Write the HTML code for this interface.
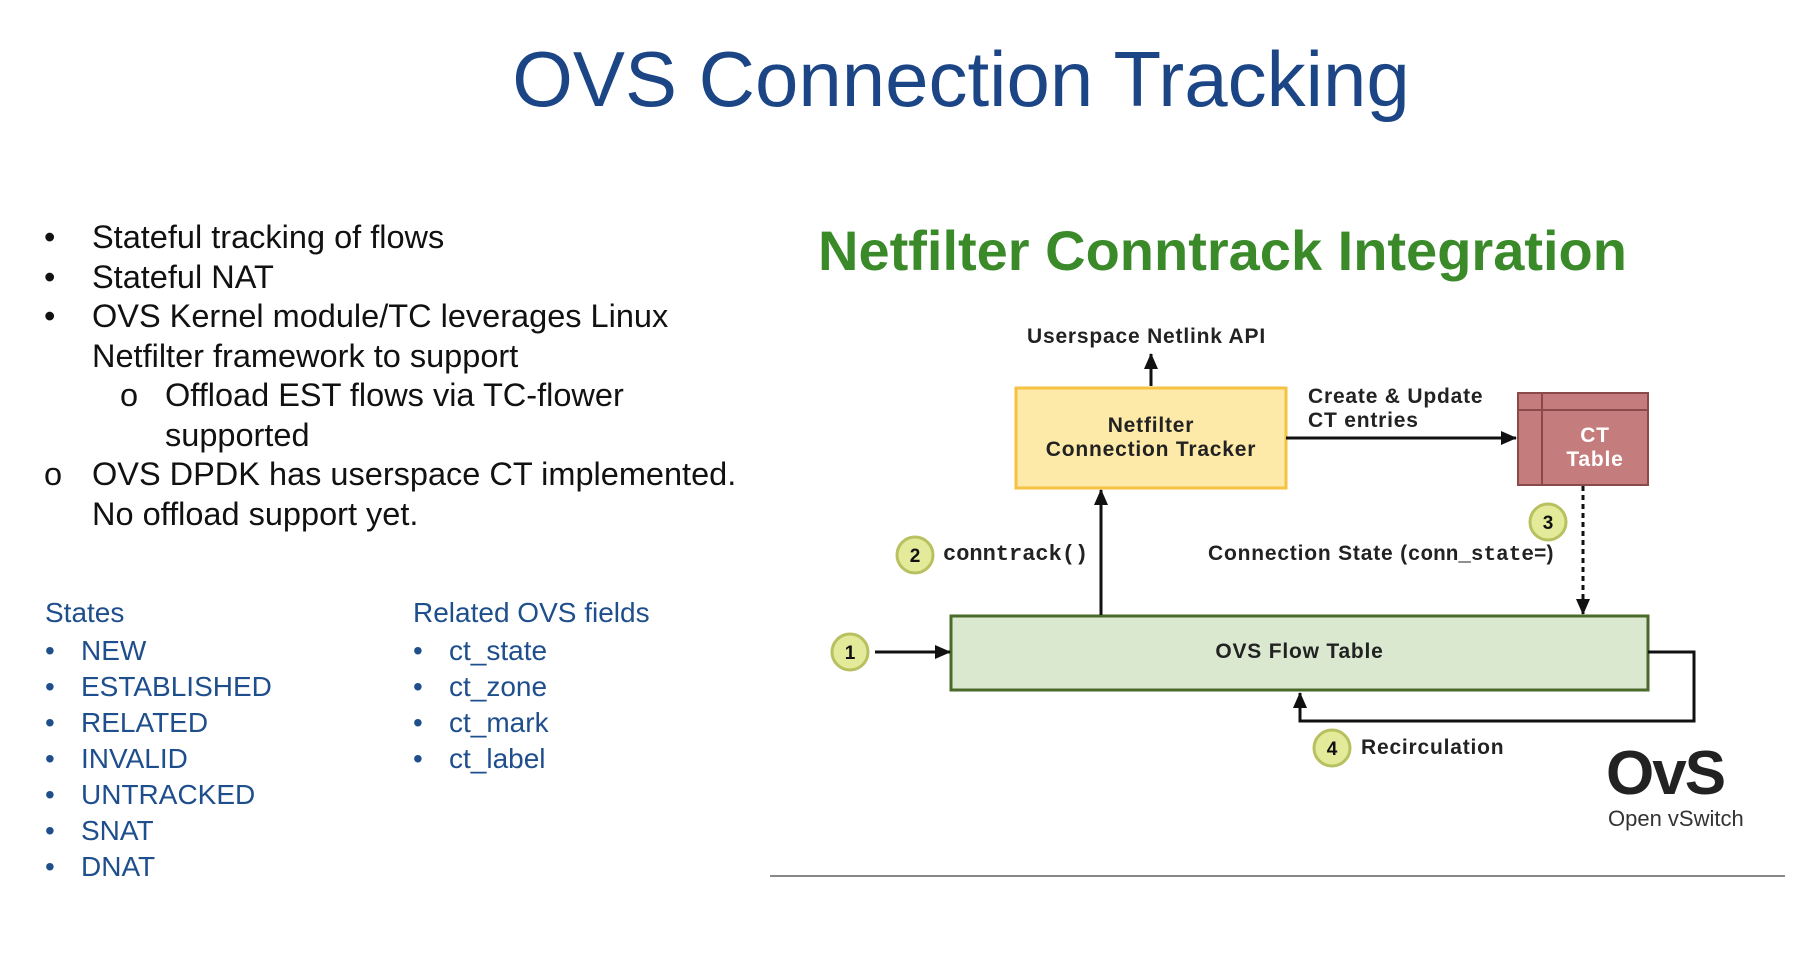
<!DOCTYPE html>
<html><head><meta charset="utf-8"><style>
body{margin:0;width:1818px;height:972px;background:#fff;position:relative;overflow:hidden;font-family:"Liberation Sans",sans-serif}
.a{position:absolute;white-space:nowrap}
.t{font-size:32.5px;color:#111;line-height:36px}
.b{font-size:28px;color:#1f4e8c;line-height:34px}
.d{font-weight:bold;font-size:21px;letter-spacing:0.8px;color:#222}
</style></head><body>
<div class="a" style="left:0;width:1922px;text-align:center;top:34px;font-size:78px;color:#1b4585">OVS Connection Tracking</div>

<div class="a t" style="left:44px;top:219px">•</div><div class="a t" style="left:92px;top:219px">Stateful tracking of flows</div>
<div class="a t" style="left:44px;top:259px">•</div><div class="a t" style="left:92px;top:259px">Stateful NAT</div>
<div class="a t" style="left:44px;top:298px">•</div><div class="a t" style="left:92px;top:298px">OVS Kernel module/TC leverages Linux</div>
<div class="a t" style="left:92px;top:338px">Netfilter framework to support</div>
<div class="a t" style="left:120px;top:377px">o</div><div class="a t" style="left:165px;top:377px">Offload EST flows via TC-flower</div>
<div class="a t" style="left:165px;top:417px">supported</div>
<div class="a t" style="left:44px;top:456px">o</div><div class="a t" style="left:92px;top:456px">OVS DPDK has userspace CT implemented.</div>
<div class="a t" style="left:92px;top:496px">No offload support yet.</div>

<div class="a b" style="left:45px;top:596px">States</div>
<div class="a b" style="left:45px;top:633px;line-height:36px">•<br>•<br>•<br>•<br>•<br>•<br>•</div>
<div class="a b" style="left:81px;top:633px;line-height:36px">NEW<br>ESTABLISHED<br>RELATED<br>INVALID<br>UNTRACKED<br>SNAT<br>DNAT</div>
<div class="a b" style="left:413px;top:596px">Related OVS fields</div>
<div class="a b" style="left:413px;top:633px;line-height:36px">•<br>•<br>•<br>•</div>
<div class="a b" style="left:449px;top:633px;line-height:36px">ct_state<br>ct_zone<br>ct_mark<br>ct_label</div>

<div class="a" style="left:818px;top:218px;font-size:56px;font-weight:bold;color:#3a8a2a">Netfilter Conntrack Integration</div>

<svg class="a" style="left:0;top:0" width="1818" height="972">
<defs><marker id="ar" markerWidth="16" markerHeight="14" refX="15" refY="7" orient="auto" markerUnits="userSpaceOnUse"><path d="M0,0L16,7L0,14z" fill="#111"/></marker></defs>
<rect x="1016" y="388" width="270" height="100" fill="#fdeaa8" stroke="#f5c242" stroke-width="3"/>
<rect x="1518" y="393" width="130" height="92" fill="#c47c7c" stroke="#8a4a4a" stroke-width="2"/>
<line x1="1518" y1="410" x2="1648" y2="410" stroke="#8a4a4a" stroke-width="2"/>
<line x1="1542" y1="393" x2="1542" y2="485" stroke="#8a4a4a" stroke-width="2"/>
<rect x="951" y="616" width="697" height="74" fill="#dbe8d0" stroke="#4a6a2a" stroke-width="3"/>
<g stroke="#111" stroke-width="3" fill="none">
<line x1="1151" y1="386" x2="1151" y2="354" marker-end="url(#ar)"/>
<line x1="1286" y1="438" x2="1516" y2="438" marker-end="url(#ar)"/>
<line x1="1101" y1="615" x2="1101" y2="490" marker-end="url(#ar)"/>
<line x1="1583" y1="486" x2="1583" y2="614" stroke-dasharray="5,4" marker-end="url(#ar)"/>
<line x1="875" y1="652" x2="950" y2="652" marker-end="url(#ar)"/>
<polyline points="1648,652 1694,652 1694,721 1300,721 1300,693" marker-end="url(#ar)"/>
</g>
<g fill="#e3ea9a" stroke="#b8c060" stroke-width="3">
<circle cx="850" cy="652" r="18"/><circle cx="915" cy="555" r="18"/><circle cx="1548" cy="522" r="18"/><circle cx="1332" cy="748" r="18"/>
</g>
<g font-family="Liberation Sans" font-weight="bold" font-size="19" text-anchor="middle" fill="#111">
<text x="850" y="659">1</text><text x="915" y="562">2</text><text x="1548" y="529">3</text><text x="1332" y="755">4</text>
</g>
<line x1="770" y1="876" x2="1785" y2="876" stroke="#888" stroke-width="2"/>
</svg>

<div class="a d" style="left:1027px;top:325px">Userspace Netlink API</div>
<div class="a d" style="left:1016px;width:270px;text-align:center;top:414px;line-height:24px">Netfilter<br>Connection Tracker</div>
<div class="a d" style="left:1308px;top:385px;line-height:24px">Create &amp; Update<br>CT entries</div>
<div class="a d" style="left:1542px;width:106px;text-align:center;top:424px;line-height:24px;color:#fff">CT<br>Table</div>
<div class="a d" style="left:943px;top:542px;font-family:'Liberation Mono',monospace;font-size:22px;letter-spacing:0">conntrack()</div>
<div class="a d" style="left:1208px;top:542px">Connection State (<span style="font-family:'Liberation Mono',monospace;letter-spacing:0">conn_state=</span>)</div>
<div class="a d" style="left:951px;width:697px;text-align:center;top:640px">OVS Flow Table</div>
<div class="a d" style="left:1361px;top:736px">Recirculation</div>
<div class="a" style="left:1606px;top:738px;font-size:62px;font-weight:bold;color:#222;letter-spacing:-2px">OvS</div>
<div class="a" style="left:1608px;top:806px;font-size:22px;color:#333">Open vSwitch</div>
</body></html>
